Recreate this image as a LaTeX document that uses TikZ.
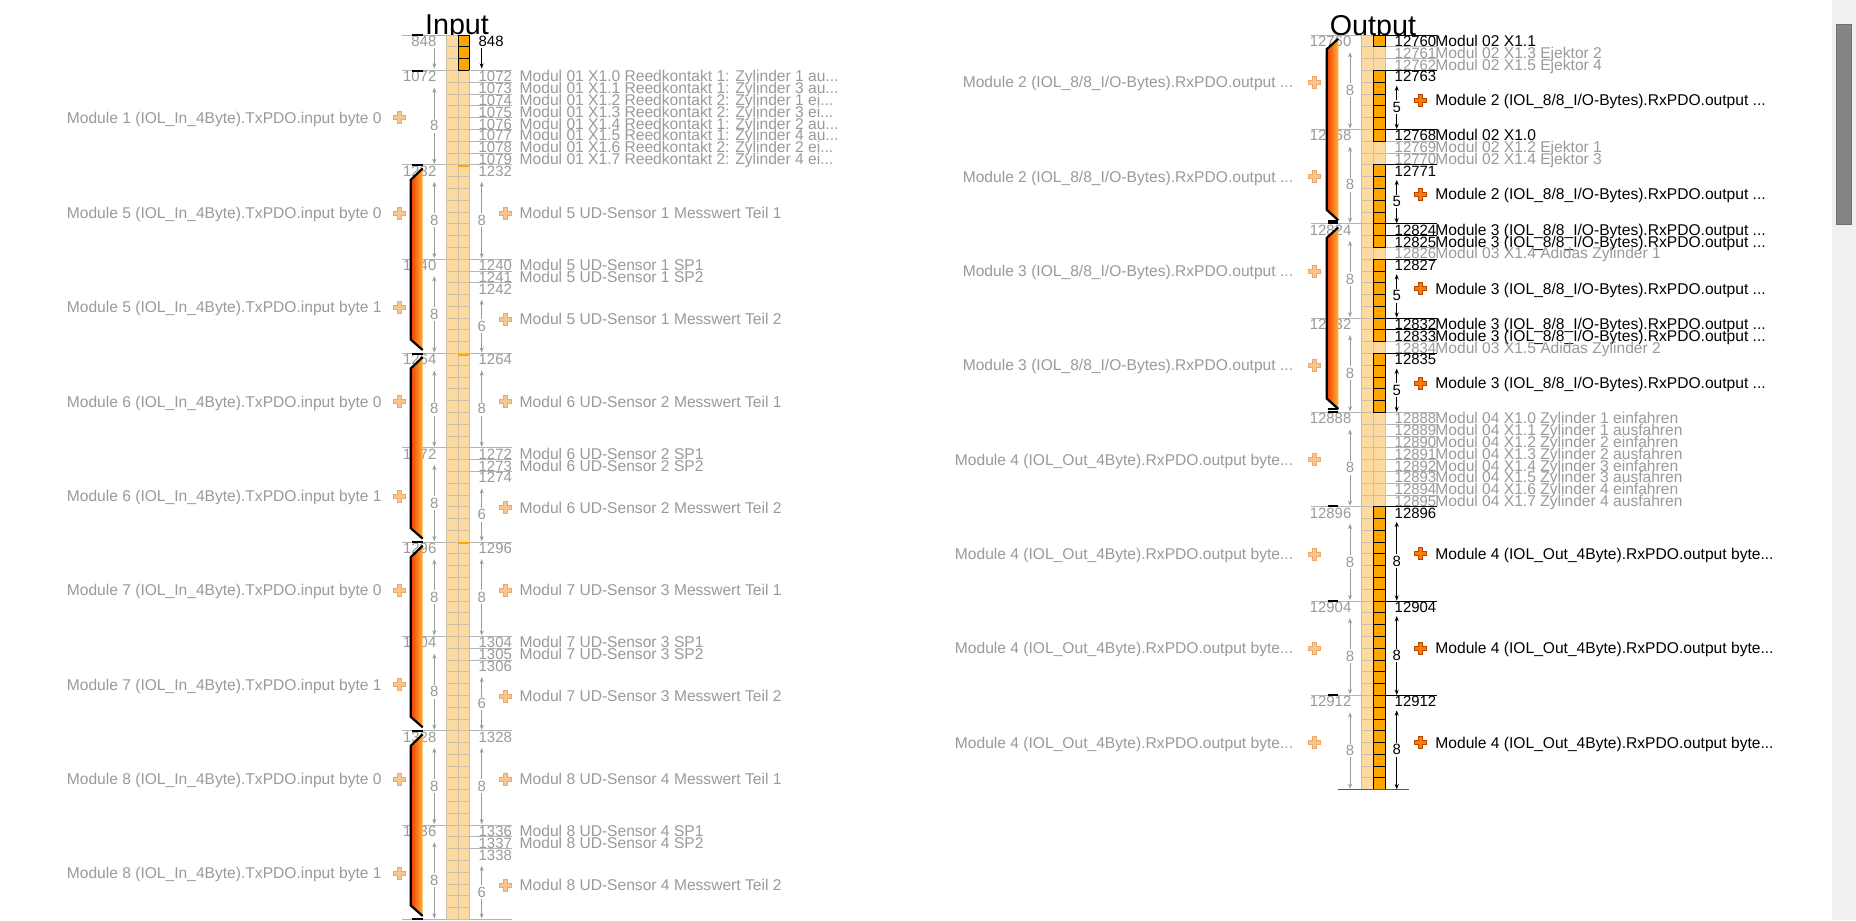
\documentclass[tikz,border=0pt]{standalone}
\usepackage{fontspec}
\setmainfont{Liberation Sans}
\usepackage{tikz}
\usetikzlibrary{arrows.meta}

\definecolor{ioGray}{HTML}{9A9A9A}
\definecolor{ioLine}{HTML}{B4B4B4}
\definecolor{ioLight}{HTML}{FDDBA0}
\definecolor{ioGrid}{HTML}{CDBFA6}
\definecolor{ioOrange}{HTML}{FFA500}
\definecolor{ioRed}{HTML}{F23C00}
\definecolor{ioAmber}{HTML}{FFB23C}
\definecolor{ioPale}{HTML}{F9C690}
\definecolor{ioPaleEdge}{HTML}{EBAA6C}
\definecolor{ioPlus}{HTML}{FF7A00}
\definecolor{ioPlusEdge}{HTML}{B44600}
\definecolor{ioTrack}{HTML}{F0F0F0}
\definecolor{ioThumb}{HTML}{858585}

\newcommand{\txtfont}{\fontsize{7.8}{9}\selectfont}
\newcommand{\numfont}{\fontsize{7.45}{9}\selectfont}
\newcommand{\ttlfont}{\fontsize{14.35}{16}\selectfont}
\newcommand{\rowy}[1]{35.2+11.79*(#1)}
\newcommand{\trail}{...}
\newcommand{\mtwo}{Module 2 (IOL\_8/8\_I/O-Bytes).RxPDO.output \trail}
\newcommand{\mthree}{Module 3 (IOL\_8/8\_I/O-Bytes).RxPDO.output \trail}
\newcommand{\mfour}{Module 4 (IOL\_Out\_4Byte).RxPDO.output byte\trail}

\tikzset{
  ttl/.style={font=\ttlfont, inner sep=0pt, anchor=base},
  gnum/.style={font=\numfont, inner sep=0pt, anchor=base west, text=ioGray},
  bnum/.style={font=\numfont, inner sep=0pt, anchor=base west, text=black},
  gtxt/.style={font=\txtfont, inner sep=0pt, anchor=base west, text=ioGray},
  btxt/.style={font=\txtfont, inner sep=0pt, anchor=base west, text=black},
  gridln/.style={ioGrid, line width=0.5pt},
  rowln/.style={ioLine, line width=0.5pt},
  cellon/.style={fill=ioOrange, draw=black, line width=0.5pt},
  dimg/.style={ioGray, line width=0.5pt,
    {Stealth[length=2.6pt,width=2pt]}-{Stealth[length=2.6pt,width=2pt]}},
  dimb/.style={dimg, black},
  tipend/.style={-{Stealth[length=2.6pt,width=2pt]}},
  dimlbl/.style={font=\numfont, inner sep=0.8pt, fill=white},
  bar/.style={black, line width=1pt},
  brk/.style={black, line width=1.1pt},
  palepl/.style={fill=ioPale, draw=ioPaleEdge, line width=0.4pt},
  brightpl/.style={fill=ioPlus, draw=ioPlusEdge, line width=0.5pt},
  plusicon/.pic={\path[pic actions] (-6,-2) -- (-2,-2) -- (-2,-6) -- (2,-6)
    -- (2,-2) -- (6,-2) -- (6,2) -- (2,2) -- (2,6) -- (-2,6) -- (-2,2)
    -- (-6,2) -- cycle;}
}

\begin{document}
\begin{tikzpicture}[x=0.5pt,y=-0.5pt]
\useasboundingbox (0,0) rectangle (1856,920);
\fill[white] (0,0) rectangle (1856,920);

% scrollbar
\fill[ioTrack] (1831.7,0) rectangle (1856,920);
\draw[fill=ioThumb, draw=ioThumb!85!black, line width=0.5pt] (1836.7,25) rectangle (1851,224);

% ================= Input =================
\begin{scope}
  \clip (380,0) rectangle (540,35.2);
  \node[ttl] (inTitle) at (457,35) {Input};
\end{scope}

% column
\fill[ioLight] (446.7,{\rowy{0}}) rectangle (469.3,{\rowy{75}});
\foreach \k in {0,...,75}
  \draw[gridln] (446.7,{\rowy{\k}}) -- (469.3,{\rowy{\k}});
\foreach \x in {446.7,458.3,469.3}
  \draw[gridln] (\x,{\rowy{0}}) -- (\x,{\rowy{75}});
\foreach \k in {0,1,2}
  \draw[cellon] (458.3,{\rowy{\k}}) rectangle (469.3,{\rowy{\k+1}});
\foreach \k in {11,27,43}
  \fill[ioOrange] (458.3,{\rowy{\k}}) rectangle (469.3,{\rowy{\k}+2.2});

% row lines
\foreach \k in {0,3,11,19,27,35,43,51,59,67,75}
  \draw[rowln] (402,{\rowy{\k}}) -- (446.7,{\rowy{\k}});
\foreach \k in {3,...,11,19,20,21,27,35,36,37,43,51,52,53,59,67,68,69,75}
  \draw[rowln] (469.3,{\rowy{\k}}) -- (512,{\rowy{\k}});

% left addresses
\foreach \k/\a in {0/848,3/1072,11/1232,19/1240,27/1264,35/1272,43/1296,51/1304,59/1328,67/1336}
  \node[gnum, anchor=base east] (inL\k) at (436.7,{\rowy{\k}+11.4}) {\a};

% top block 848
\node[bnum] (inR0) at (478.3,{\rowy{0}+11.4}) {848};
\coordinate (inTopA) at (481.7,{\rowy{0}+13});
\coordinate (inTopB) at (481.7,{\rowy{3}-2});
\draw[black, line width=0.5pt, tipend] (inTopA) -- (inTopB);
\coordinate (inLftA) at (434.3,{\rowy{0}+13});
\coordinate (inLftB) at (434.3,{\rowy{3}-2});
\draw[ioGray, line width=0.5pt, tipend] (inLftA) -- (inLftB);

% Modul 01 bits
\foreach \lt [count=\i from 0] in {1: Zylinder 1 au\trail, 1: Zylinder 3 au\trail,
    2: Zylinder 1 ei\trail, 2: Zylinder 3 ei\trail, 1: Zylinder 2 au\trail,
    1: Zylinder 4 au\trail, 2: Zylinder 2 ei\trail, 2: Zylinder 4 ei\trail}{
  \pgfmathtruncatemacro\k{3+\i}
  \pgfmathtruncatemacro\adr{1072+\i}
  \node[gnum] (inR\k) at (478.3,{\rowy{\k}+11.4}) {\adr};
  \node[gtxt] (inT\k) at (519.3,{\rowy{\k}+11.4}) {Modul 01 X1.\i{} Reedkontakt \lt};
}

% Module 1, left
\coordinate (m1A) at (434.3,{\rowy{3}+17});
\coordinate (m1B) at (434.3,{\rowy{11}-1});
\draw[dimg] (m1A) -- (m1B) node[midway, dimlbl, text=ioGray] {8};
\pic[palepl] at (399.3,{(\rowy{3}+\rowy{11})/2}) {plusicon};
\node[gtxt, anchor=base east] (inM1) at (382,{(\rowy{3}+\rowy{11})/2+5.4})
  {Module 1 (IOL\_In\_4Byte).TxPDO.input byte 0};

% UD sensors, modules 5..8
\foreach \m [count=\i from 0] in {5,6,7,8}{
  \pgfmathtruncatemacro\ka{11+16*\i}
  \pgfmathtruncatemacro\kb{19+16*\i}
  \pgfmathtruncatemacro\kc{20+16*\i}
  \pgfmathtruncatemacro\kd{21+16*\i}
  \pgfmathtruncatemacro\ke{27+16*\i}
  \pgfmathtruncatemacro\adr{1232+32*\i}
  \pgfmathtruncatemacro\adrB{\adr+8}
  \pgfmathtruncatemacro\adrC{\adr+9}
  \pgfmathtruncatemacro\adrD{\adr+10}
  \pgfmathtruncatemacro\sn{\i+1}
  % right addresses and names
  \node[gnum] (inRa\m) at (478.3,{\rowy{\ka}+11.4}) {\adr};
  \node[gnum] (inRb\m) at (478.3,{\rowy{\kb}+11.4}) {\adrB};
  \node[gnum] (inRc\m) at (478.3,{\rowy{\kc}+11.4}) {\adrC};
  \node[gnum] (inRd\m) at (478.3,{\rowy{\kd}+11.4}) {\adrD};
  \node[gtxt] (inSPa\m) at (519.3,{\rowy{\kb}+11.4}) {Modul \m{} UD-Sensor \sn{} SP1};
  \node[gtxt] (inSPb\m) at (519.3,{\rowy{\kc}+11.4}) {Modul \m{} UD-Sensor \sn{} SP2};
  % Messwert Teil 1
  \coordinate (v1A\m) at (481.7,{\rowy{\ka}+17});
  \coordinate (v1B\m) at (481.7,{\rowy{\kb}-1});
  \draw[dimg] (v1A\m) -- (v1B\m) node[midway, dimlbl, text=ioGray] {8};
  \pic[palepl] at (505,{(\rowy{\ka}+\rowy{\kb})/2+1}) {plusicon};
  \node[gtxt] (inMwa\m) at (519.3,{(\rowy{\ka}+\rowy{\kb})/2+6.4})
    {Modul \m{} UD-Sensor \sn{} Messwert Teil 1};
  % Messwert Teil 2
  \coordinate (v2A\m) at (481.7,{\rowy{\kd}+17});
  \coordinate (v2B\m) at (481.7,{\rowy{\ke}-1});
  \draw[dimg] (v2A\m) -- (v2B\m) node[midway, dimlbl, text=ioGray] {6};
  \pic[palepl] at (505,{(\rowy{\kd}+\rowy{\ke})/2+1}) {plusicon};
  \node[gtxt] (inMwb\m) at (519.3,{(\rowy{\kd}+\rowy{\ke})/2+6.4})
    {Modul \m{} UD-Sensor \sn{} Messwert Teil 2};
  % left: byte 0 / byte 1
  \coordinate (b0A\m) at (434.3,{\rowy{\ka}+17});
  \coordinate (b0B\m) at (434.3,{\rowy{\kb}-1});
  \draw[dimg] (b0A\m) -- (b0B\m) node[midway, dimlbl, text=ioGray] {8};
  \coordinate (b1A\m) at (434.3,{\rowy{\kb}+17});
  \coordinate (b1B\m) at (434.3,{\rowy{\ke}-1});
  \draw[dimg] (b1A\m) -- (b1B\m) node[midway, dimlbl, text=ioGray] {8};
  \pic[palepl] at (399.3,{(\rowy{\ka}+\rowy{\kb})/2+1}) {plusicon};
  \pic[palepl] at (399.3,{(\rowy{\kb}+\rowy{\ke})/2+1}) {plusicon};
  \node[gtxt, anchor=base east] (inBa\m) at (382,{(\rowy{\ka}+\rowy{\kb})/2+6.4})
    {Module \m{} (IOL\_In\_4Byte).TxPDO.input byte 0};
  \node[gtxt, anchor=base east] (inBb\m) at (382,{(\rowy{\kb}+\rowy{\ke})/2+6.4})
    {Module \m{} (IOL\_In\_4Byte).TxPDO.input byte 1};
  % bracket
  \shade[left color=ioRed, right color=ioAmber] (422.7,{\rowy{\ka}+3.5}) -- (410.7,{\rowy{\ka}+15})
    -- (410.7,{\rowy{\ke}-14}) -- (422.7,{\rowy{\ke}-3.5}) -- cycle;
  \draw[brk] (422.7,{\rowy{\ka}+3.5}) -- (410.7,{\rowy{\ka}+15})
    -- (410.7,{\rowy{\ke}-14}) -- (422.7,{\rowy{\ke}-3.5});
}
\foreach \k in {0,3,11,27,43,59,75}
  \draw[bar] (411.5,{\rowy{\k}}) -- (422.7,{\rowy{\k}});

% ================= Output =================
\begin{scope}
  \clip (1290,0) rectangle (1460,35.2);
  \node[ttl] (outTitle) at (1372.9,35.6) {Output};
\end{scope}

% column
\fill[ioLight] (1361.7,{\rowy{0}}) rectangle (1385.7,{\rowy{64}});
\foreach \k in {0,...,64}
  \draw[gridln] (1361.7,{\rowy{\k}}) -- (1385.7,{\rowy{\k}});
\foreach \x in {1361.7,1373.3,1385.7}
  \draw[gridln] (\x,{\rowy{0}}) -- (\x,{\rowy{64}});
\foreach \k in {0,3,4,5,6,7,8,11,12,13,14,15,16,17,19,20,21,22,23,24,25,27,28,29,30,31}
  \draw[cellon] (1373.3,{\rowy{\k}}) rectangle (1385.7,{\rowy{\k+1}});
\foreach \k in {40,...,63}
  \draw[cellon] (1373.3,{\rowy{\k}}) rectangle (1385.7,{\rowy{\k+1}});

% row lines
\foreach \k in {0,8,...,56}
  \draw[rowln] (1311,{\rowy{\k}}) -- (1361.7,{\rowy{\k}});
\foreach \k in {1,2,9,10,18,26,32,33,34,35,36,37,38,39}
  \draw[rowln] (1385.7,{\rowy{\k}}) -- (1436.7,{\rowy{\k}});
\foreach \k in {0,3,8,11,16,17,19,24,25,27,40,48,56}
  \draw[black, line width=0.5pt] (1385.7,{\rowy{\k}}) -- (1436.7,{\rowy{\k}});
\draw[black!65, line width=0.5pt] (1338,{\rowy{64}}) -- (1409,{\rowy{64}});

% left addresses and blocks
\foreach \k/\a in {0/12760,8/12768,16/12824,24/12832,32/12888,40/12896,48/12904,56/12912}
  \node[gnum, anchor=base east] (outL\k) at (1351.7,{\rowy{\k}+11.4}) {\a};
\foreach \k/\lt in {0/\mtwo,8/\mtwo,16/\mthree,24/\mthree,32/\mfour,40/\mfour,48/\mfour,56/\mfour}{
  \pgfmathtruncatemacro\kn{\k+8}
  \coordinate (oA\k) at (1350,{\rowy{\k}+17});
  \coordinate (oB\k) at (1350,{\rowy{\kn}-1});
  \draw[dimg] (oA\k) -- (oB\k) node[midway, dimlbl, text=ioGray] {8};
  \pic[palepl] at (1314.3,{(\rowy{\k}+\rowy{\kn})/2}) {plusicon};
  \node[gtxt, anchor=base east] (outT\k) at (1293.5,{(\rowy{\k}+\rowy{\kn})/2+5.4}) {\lt};
}

% right single rows
\foreach \k/\a/\c/\lt in {0/12760/black/{Modul 02 X1.1},
    1/12761/ioGray/{Modul 02 X1.3 Ejektor 2}, 2/12762/ioGray/{Modul 02 X1.5 Ejektor 4},
    8/12768/black/{Modul 02 X1.0},
    9/12769/ioGray/{Modul 02 X1.2 Ejektor 1}, 10/12770/ioGray/{Modul 02 X1.4 Ejektor 3},
    16/12824/black/\mthree, 17/12825/black/\mthree,
    18/12826/ioGray/{Modul 03 X1.4 Adidas Zylinder 1},
    24/12832/black/\mthree, 25/12833/black/\mthree,
    26/12834/ioGray/{Modul 03 X1.5 Adidas Zylinder 2}}{
  \node[gnum, text=\c] (outR\k) at (1394.3,{\rowy{\k}+11.4}) {\a};
  \node[gtxt, text=\c] (outN\k) at (1435,{\rowy{\k}+11.4}) {\lt};
}
\foreach \lt [count=\i from 0] in {Zylinder 1 einfahren, Zylinder 1 ausfahren,
    Zylinder 2 einfahren, Zylinder 2 ausfahren, Zylinder 3 einfahren,
    Zylinder 3 ausfahren, Zylinder 4 einfahren, Zylinder 4 ausfahren}{
  \pgfmathtruncatemacro\k{32+\i}
  \pgfmathtruncatemacro\adr{12888+\i}
  \node[gnum] (outR\k) at (1394.3,{\rowy{\k}+11.4}) {\adr};
  \node[gtxt] (outN\k) at (1435,{\rowy{\k}+11.4}) {Modul 04 X1.\i{} \lt};
}

% right blocks
\foreach \k/\n/\a/\lt in {3/5/12763/\mtwo, 11/5/12771/\mtwo, 19/5/12827/\mthree,
    27/5/12835/\mthree, 40/8/12896/\mfour, 48/8/12904/\mfour, 56/8/12912/\mfour}{
  \pgfmathtruncatemacro\kn{\k+\n}
  \node[bnum] (outR\k) at (1394.3,{\rowy{\k}+11.4}) {\a};
  \coordinate (rA\k) at (1396.7,{\rowy{\k}+15});
  \coordinate (rB\k) at (1396.7,{\rowy{\kn}-0.5});
  \draw[dimb] (rA\k) -- (rB\k) node[midway, dimlbl] {\n};
  \pic[brightpl] at (1420.7,{(\rowy{\k}+\rowy{\kn})/2}) {plusicon};
  \node[btxt] (outN\k) at (1435,{(\rowy{\k}+\rowy{\kn})/2+5.4}) {\lt};
}

% brackets
\foreach \ka/\ke in {0/16,16/32}{
  \shade[left color=ioRed, right color=ioAmber] (1338.3,{\rowy{\ka}+3.5}) -- (1326.7,{\rowy{\ka}+14})
    -- (1326.7,{\rowy{\ke}-14}) -- (1338.3,{\rowy{\ke}-3.5}) -- cycle;
  \draw[brk] (1338.3,{\rowy{\ka}+3.5}) -- (1326.7,{\rowy{\ka}+14})
    -- (1326.7,{\rowy{\ke}-14}) -- (1338.3,{\rowy{\ke}-3.5});
}
\foreach \k in {16,32,40,48,56}
  \draw[bar] (1327.5,{\rowy{\k}-0.5}) -- (1338.3,{\rowy{\k}-0.5});
\foreach \k in {16,32}
  \draw[bar] (1327.5,{\rowy{\k}-3}) -- (1338.3,{\rowy{\k}-3});
\end{tikzpicture}
\end{document}
